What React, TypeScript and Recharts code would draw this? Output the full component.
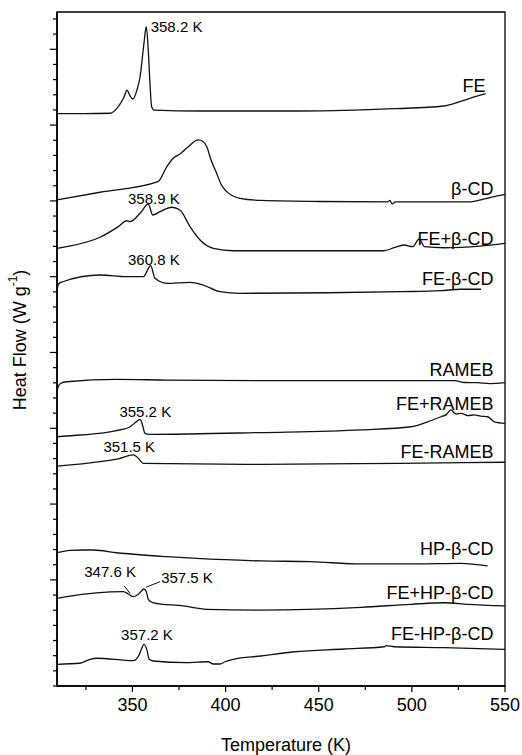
import React from "react";
import {
  ComposedChart, Line, XAxis, YAxis, ReferenceArea, ReferenceDot, ReferenceLine, Label,
} from "recharts";

const FONT = "'Liberation Sans', Arial, Helvetica, sans-serif";

// Temperature (K) and stacked heat flow (offset units, one minor y tick = 1)
const feT = [309.5, 324.5, 337.9, 342.2, 345.5, 347.1, 348.7, 350.3, 352.4, 354.1, 356.2, 357.4, 358.5, 359.4, 360.3, 361.6, 386.3, 439.9, 490.4, 517.2, 525.8, 533.9, 539.6];
const feHF = [37.76, 37.76, 37.78, 38.19, 38.85, 39.31, 38.92, 38.72, 39.31, 40.19, 42.41, 43.49, 41.95, 39.78, 38.21, 37.99, 37.93, 37.93, 38.08, 38.26, 38.54, 38.87, 39.07];

const bcdT = [309.5, 332.6, 363.7, 368.4, 371.9, 375.5, 379.8, 385.3, 387.9, 389.9, 392.2, 395.2, 397.5, 400.6, 407.7, 419.0, 450.7, 487.0, 488.2, 489.4, 491.2, 531.7, 537.6, 544.2, 550];
const bcdHF = [32.06, 32.57, 33.27, 34.25, 34.81, 35.09, 35.55, 36.02, 35.92, 35.57, 34.70, 33.82, 33.11, 32.61, 32.17, 32.03, 31.96, 31.94, 32.03, 31.80, 31.93, 31.94, 32.09, 32.28, 32.43];

const feBcdT = [309.5, 314.7, 332.6, 342.4, 346.9, 348.7, 354.1, 358.5, 360.9, 364.8, 371.1, 375.5, 380.9, 386.3, 393.4, 404.1, 485.0, 490.4, 495.8, 500.4, 504.0, 506.7, 517.4, 536.6, 550];
const feBcdHF = [28.87, 28.98, 29.60, 30.30, 30.69, 30.63, 31.18, 31.79, 31.07, 31.29, 31.58, 31.40, 30.30, 29.42, 28.87, 28.71, 28.71, 28.91, 29.09, 28.98, 29.49, 28.98, 28.91, 29.02, 29.20];

const feXbcdT = [309.5, 310.3, 312.2, 332.6, 346.9, 355.8, 359.8, 362.1, 368.4, 380.9, 388.0, 397.0, 407.7, 454.8, 494.1, 515.6, 526.4, 537.1];
const feXbcdHF = [26.12, 26.52, 26.65, 27.11, 27.00, 27.00, 27.72, 26.89, 26.56, 26.63, 26.45, 26.01, 25.90, 25.94, 26.01, 26.08, 26.17, 26.17];

const ramebT = [309.5, 310.3, 311.6, 314.7, 341.6, 368.4, 419.0, 522.8, 528.5, 535.3, 541.9, 550];
const ramebHF = [19.39, 19.79, 19.97, 20.07, 20.23, 20.18, 20.14, 20.14, 20.02, 20.01, 19.95, 20.01];

const feRamebT = [309.5, 314.7, 337.9, 344.4, 348.7, 351.9, 354.1, 355.4, 356.7, 359.4, 419.0, 472.7, 499.5, 508.5, 515.6, 518.5, 521.0, 523.7, 526.4, 530.1, 533.5, 537.0, 540.7, 544.2, 550];
const feRamebHF = [16.44, 16.49, 16.77, 16.92, 17.10, 17.41, 17.59, 17.22, 16.67, 16.60, 16.72, 16.89, 17.10, 17.43, 17.76, 17.90, 18.21, 17.94, 17.99, 17.84, 17.88, 17.80, 17.76, 17.43, 17.33];

const feXramebT = [309.5, 332.6, 343.3, 347.1, 350.5, 353.0, 355.8, 419.0, 493.6, 550];
const feXramebHF = [14.51, 14.80, 15.02, 15.17, 15.24, 15.04, 14.69, 14.62, 14.69, 14.76];

const hpT = [309.5, 316.5, 323.6, 329.0, 341.6, 368.4, 419.0, 445.8, 472.7, 499.5, 526.4, 540.7];
const hpHF = [8.79, 8.94, 8.97, 8.97, 8.79, 8.53, 8.25, 8.20, 8.05, 8.05, 8.09, 7.92];

const feHpT = [309.5, 314.7, 345.1, 347.8, 350.5, 353.1, 356.2, 357.5, 358.5, 361.2, 377.3, 389.9, 419.0, 472.7, 499.5, 517.4, 529.9, 550];
const feHpHF = [5.78, 5.89, 6.22, 6.07, 5.89, 6.05, 6.40, 6.20, 5.72, 5.49, 5.28, 5.06, 5.01, 5.19, 5.39, 5.49, 5.39, 5.28];

const feXhpT = [309.5, 321.8, 327.2, 330.8, 350.5, 353.1, 354.6, 356.2, 357.8, 359.0, 361.2, 379.1, 390.7, 393.4, 397.0, 399.7, 404.1, 419.0, 436.9, 463.7, 485.2, 486.1, 490.6, 517.4, 550];
const feXhpHF = [1.43, 1.50, 1.76, 1.83, 1.67, 1.93, 2.37, 2.75, 2.37, 1.76, 1.65, 1.54, 1.60, 1.45, 1.45, 1.60, 1.76, 1.98, 2.26, 2.44, 2.59, 2.66, 2.59, 2.53, 2.42];

// curve names and where they are written
const curveNames = ["FE", "β-CD", "FE+β-CD", "FE-β-CD", "RAMEB", "FE+RAMEB", "FE-RAMEB", "HP-β-CD", "FE+HP-β-CD", "FE-HP-β-CD"];
const curveLabelT = [539.6, 543.8, 543.8, 543.8, 543.8, 543.8, 543.8, 543.8, 543.8, 543.8];
const curveLabelHF = [39.58, 32.76, 29.51, 26.83, 20.84, 18.58, 15.46, 9.02, 6.15, 3.41];

// peak temperature annotations
const peakText = ["358.2 K", "358.9 K", "360.8 K", "355.2 K", "351.5 K", "347.6 K", "357.5 K", "357.2 K"];
const peakAnchor = ["start", "middle", "middle", "middle", "middle", "middle", "middle", "middle"];
const peakT = [359.8, 361.5, 361.5, 356.9, 348.3, 338.0, 379.3, 357.8];
const peakHF = [43.49, 32.17, 28.15, 18.09, 15.83, 7.54, 7.17, 3.43];

// short leader lines for the FE+HP-β-CD labels
const leaders = [
  [{ x: 345.6, y: 6.6 }, { x: 348.7, y: 6.11 }],
  [{ x: 357.3, y: 6.51 }, { x: 364.8, y: 6.88 }],
];

const xTicks = [325, 350, 375, 400, 425, 450, 475, 500, 525, 550];
const yTicks = [0, 1, 2, 3, 4, 5, 6, 7, 8, 9, 10, 11, 12, 13, 14, 15, 16, 17, 18, 19, 20, 21, 22, 23, 24, 25, 26, 27, 28, 29, 30, 31, 32, 33, 34, 35, 36, 37, 38, 39, 40, 41, 42, 43, 44];
const yMajor = [7, 12, 17, 22, 27, 32, 37, 42];

const X_DOMAIN: [number, number] = [309.5, 550];
const Y_DOMAIN: [number, number] = [0, 44.46];

const curves = [
  [feT, feHF], [bcdT, bcdHF], [feBcdT, feBcdHF], [feXbcdT, feXbcdHF], [ramebT, ramebHF],
  [feRamebT, feRamebHF], [feXramebT, feXramebHF], [hpT, hpHF], [feHpT, feHpHF], [feXhpT, feXhpHF],
].map(([t, hf]) => t.map((v, i) => ({ t: v, v: hf[i] })));

const XTick = ({ x, y, payload }: any) => {
  const major = payload.value % 50 === 0;
  return (
    <g>
      <line x1={x} x2={x} y1={y} y2={y + (major ? 6 : 4)} stroke="#000" strokeWidth={1.2} />
      {major && (
        <text x={x} y={y + 19} textAnchor="middle" dominantBaseline="central" fontSize={18} fontFamily={FONT} fill="#000">
          {payload.value}
        </text>
      )}
    </g>
  );
};

const YTick = ({ x, y, payload }: any) => {
  const major = yMajor.includes(payload.value);
  return <line x1={x} x2={x - (major ? 7 : 4)} y1={y} y2={y} stroke="#000" strokeWidth={1.2} />;
};

const textLabel = (text: string, anchor: string, size: number) => (props: any) => {
  const { viewBox } = props;
  return (
    <text x={viewBox.x} y={viewBox.y} textAnchor={anchor} dominantBaseline="central"
      fontSize={size} fontFamily={FONT} fill="#000">
      {text}
    </text>
  );
};

const YTitle = (props: any) => {
  const { viewBox } = props;
  const cx = viewBox.x + 20;
  const cy = 340;
  return (
    <text x={cx} y={cy} transform={`rotate(-90, ${cx}, ${cy})`} textAnchor="middle" dominantBaseline="central"
      fontSize={18} fontFamily={FONT} fill="#000">
      Heat Flow (W g<tspan fontSize={12} dy={-7}>-1</tspan><tspan dy={7}>)</tspan>
    </text>
  );
};

export default function App() {
  return (
    <div style={{ position: "absolute", left: 0, top: 0, width: 522, height: 755, background: "#fff" }}>
      <ComposedChart width={522} height={755} margin={{ top: 12, right: 17, bottom: 0, left: 0 }}>
        <XAxis
          type="number"
          dataKey="t"
          domain={X_DOMAIN}
          allowDataOverflow
          ticks={xTicks}
          interval={0}
          height={69}
          tickSize={0}
          tickMargin={0}
          tickLine={false}
          tick={<XTick />}
          axisLine={{ stroke: "#000", strokeWidth: 1.6 }}
        >
          <Label value="Temperature (K)" position="insideBottom" offset={4} dx={5}
            style={{ fontSize: 18, fontFamily: FONT, fill: "#000" }} />
        </XAxis>
        <YAxis
          type="number"
          domain={Y_DOMAIN}
          allowDataOverflow
          ticks={yTicks}
          interval={0}
          width={57}
          tickSize={0}
          tickMargin={0}
          tickLine={false}
          tick={<YTick />}
          axisLine={{ stroke: "#000", strokeWidth: 1.6 }}
        >
          <Label content={<YTitle />} />
        </YAxis>

        <ReferenceArea x1={X_DOMAIN[0]} x2={X_DOMAIN[1]} y1={Y_DOMAIN[0]} y2={Y_DOMAIN[1]}
          fill="none" stroke="#000" strokeWidth={1.3} />

        {curves.map((d, i) => (
          <Line key={curveNames[i]} data={d} dataKey="v" type="monotone" stroke="#111"
            strokeWidth={1.3} dot={false} activeDot={false} isAnimationActive={false} />
        ))}

        {leaders.map((seg, i) => (
          <ReferenceLine key={`ld${i}`} segment={seg} stroke="#111" strokeWidth={1} />
        ))}

        {curveNames.map((n, i) => (
          <ReferenceDot key={`cl${i}`} x={curveLabelT[i]} y={curveLabelHF[i]} r={0} stroke="none" fill="none"
            label={textLabel(n, "end", 18)} />
        ))}
        {peakText.map((p, i) => (
          <ReferenceDot key={`pk${i}`} x={peakT[i]} y={peakHF[i]} r={0} stroke="none" fill="none"
            label={textLabel(p, peakAnchor[i], 15)} />
        ))}
      </ComposedChart>
    </div>
  );
}
